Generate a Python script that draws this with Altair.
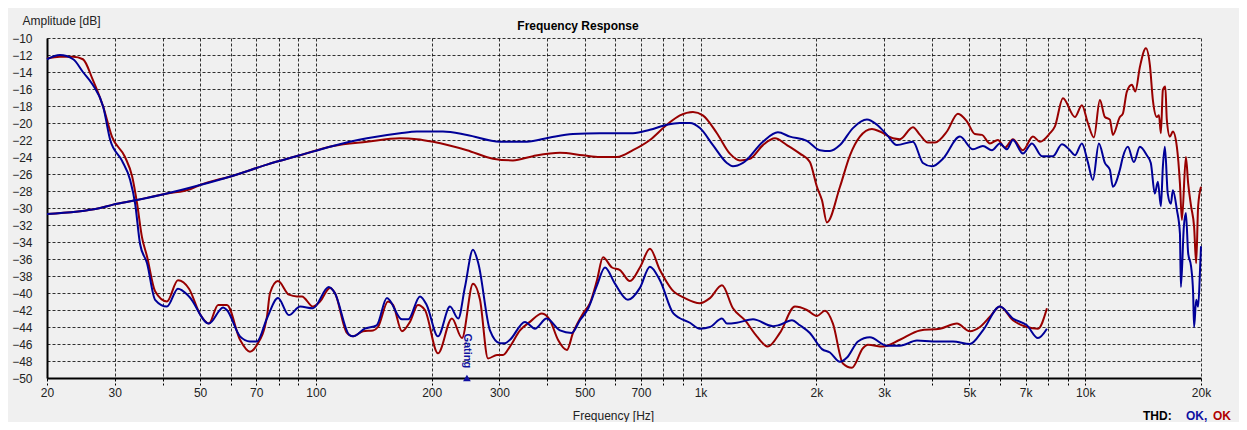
import altair as alt
import pandas as pd

# ---------------- data ----------------
fr_red_hz = [20, 27.5, 29.7, 33.9, 41.0, 47.1, 50.0, 60.9, 74.6, 90.9, 110.8, 135.8, 165.4, 183.1, 201.6,
             247.1, 288.7, 325.4, 366.7, 431, 494.8, 547.7, 606.4, 667.2, 738.6, 817.7, 884, 955.6, 1014, 1103,
             1192, 1266, 1344, 1453, 1561, 1677, 1813, 1924, 2007, 2069, 2131, 2304, 2446, 2596, 2790,
             2926, 3163, 3298, 3566, 3719, 3900, 4068, 4370, 4668, 4925, 5168, 5389, 5653, 5930, 6184,
             6488, 6887, 7313, 7626, 8097, 8343, 8752, 9402, 9804, 10160, 10535, 10918, 11250, 11591, 11801,
             12306, 12529, 12832, 13222, 13500, 13873, 14380, 14729, 14995, 15358, 15550, 15730, 15920, 16150, 16300,
             16600, 16900, 17310, 17630, 17840, 18270, 18520, 18850, 19190, 19430, 19660, 20000]
fr_red_db = [-30.7, -30.0, -29.6, -29.1, -28.3, -27.8, -27.3, -26.2, -24.9, -23.8, -22.7, -22.2, -21.8, -21.9, -22.2,
             -23.2, -24.2, -24.4, -23.9, -23.5, -23.8, -24.0, -24.0, -23.2, -22.0, -20.2, -19.1, -18.7, -19.1, -21.2,
             -23.6, -24.4, -24.2, -22.6, -21.8, -22.6, -23.6, -24.6, -27.5, -29.1, -31.7, -27.5, -23.8, -21.6, -20.7,
             -21.0, -21.8, -21.9, -20.5, -21.4, -22.3, -22.3, -21.0, -18.9, -19.8, -21.3, -21.4, -22.4, -22.0, -22.9,
             -21.9, -23.2, -21.6, -22.2, -21.2, -20.4, -17.1, -19.3, -17.9, -20.0, -21.7, -17.3, -19.3, -19.6, -21.4,
             -19.3, -18.9, -16.3, -15.5, -16.3, -13.4, -11.2, -13.2, -17.3, -19.3, -19.1, -21.2, -16.1, -15.7, -19.6,
             -21.6, -21.0, -22.8, -27.1, -31.4, -24.0, -27.1, -29.8, -32.2, -36.5, -29.8, -27.5]

fr_blue_hz = [20, 27.5, 29.7, 33.9, 41.0, 50.0, 60.9, 74.6, 90.9, 110.8, 135.8, 165.4, 183.1, 214.0, 247.1,
              301.0, 353.8, 406.0, 466.0, 547.7, 667.2, 738.6, 817.7, 884, 938.6, 996.4, 1077, 1171, 1214, 1289,
              1453, 1589, 1708, 1890, 2044, 2170, 2304, 2490, 2707, 2874, 3052, 3239, 3566, 3786, 3996,
              4267, 4724, 5106, 5421, 5721, 6001, 6258, 6488, 6887, 7270, 7718, 8244, 8700, 9125, 9402,
              9804, 10160, 10471, 10853, 11250, 11591, 11801, 12306, 12529, 12910, 13380, 13873, 14460, 14810, 15170,
              15450, 15730, 15920, 16110, 16390, 16700, 16900, 17310, 17630, 17730, 18050, 18270, 18520, 18850, 19080,
              19190, 19430, 19660, 19900, 20000]
fr_blue_db = [-30.7, -30.0, -29.6, -29.1, -28.3, -27.3, -26.2, -24.9, -23.8, -22.7, -21.8, -21.2, -21.0, -21.0, -21.4,
              -22.2, -22.2, -21.7, -21.3, -21.2, -21.2, -20.8, -20.2, -20.0, -20.0, -20.6, -22.6, -24.7, -25.1, -24.7,
              -22.2, -21.1, -21.6, -22.1, -23.2, -23.3, -22.6, -20.6, -19.6, -20.2, -21.4, -22.6, -22.2, -24.7, -25.1,
              -24.2, -21.6, -23.1, -22.7, -23.2, -22.4, -23.1, -22.0, -23.6, -22.4, -23.9, -23.9, -22.5, -23.2, -23.8,
              -22.4, -24.6, -26.7, -22.4, -24.7, -25.5, -27.5, -25.5, -24.0, -22.8, -24.6, -22.8, -23.8, -24.7, -28.3,
              -26.9, -29.8, -25.1, -22.8, -28.3, -29.5, -27.9, -30.2, -33.0, -39.3, -32.2, -30.6, -35.3, -36.9, -40.0,
              -44.0, -40.8, -41.6, -36.9, -34.5]

dist_red_hz = [20, 21.6, 23.4, 24.8, 26.3, 28.0, 29.5, 31.9, 33.3, 34.3, 35.3, 36.4, 38.2, 41.0, 43.8,
               46.8, 50.0, 52.7, 55.7, 58.7, 63.5, 67.4, 70.3, 74.6, 76.0, 79.7, 85.1, 89.3, 92.0, 98.3,
               102.5, 108.8, 112.1, 120.4, 124.9, 132.6, 140.8, 145.0, 154.0, 158.7, 167.4, 175.6, 184.2, 192.1, 207.7,
               225.8, 239.8, 256.1, 267.1, 280.2, 295.7, 306.5, 319.6, 339.3, 360.2, 387.0, 406.0, 426.0, 449.5, 466.0,
               494.8, 515.9, 538.0, 557.7, 588.5, 617.3, 655.3, 695.7, 738.6, 784.2, 842.6, 911, 996, 1058, 1137,
               1214, 1304, 1401, 1497, 1608, 1760, 1890, 2007, 2106, 2209, 2345, 2475, 2643, 2724, 2980,
               3298, 3719, 4192, 4640, 5015, 5325, 5653, 6001, 6488, 7054, 7536, 7953]
dist_red_db = [-12.4, -12.2, -12.2, -12.5, -14.9, -18.1, -21.6, -24.0, -26.3, -29.5, -33.4, -35.7, -39.8, -41.0, -38.5,
               -39.5, -42.5, -43.6, -41.4, -41.4, -45.5, -46.9, -46.1, -42.8, -40.0, -38.6, -40.2, -40.4, -40.4, -41.6,
               -41.0, -39.4, -40.0, -44.7, -45.1, -44.5, -44.4, -44.0, -41.0, -41.4, -44.5, -43.4, -41.4, -42.0, -47.1,
               -43.0, -45.3, -38.9, -40.8, -47.7, -47.3, -47.3, -46.3, -44.4, -43.4, -42.4, -43.2, -45.5, -46.7, -44.7,
               -42.4, -41.2, -38.5, -35.8, -37.0, -37.3, -38.6, -37.0, -34.8, -37.3, -39.6, -40.6, -41.2, -40.6, -39.1,
               -41.8, -43.2, -45.1, -46.3, -44.7, -41.6, -42.0, -42.7, -42.1, -43.6, -48.3, -48.8, -46.5, -46.1, -46.3,
               -45.5, -44.4, -44.2, -43.6, -44.5, -44.0, -42.8, -41.6, -43.2, -44.0, -44.2, -41.8]

dist_blue_hz = [20, 21.6, 23.4, 24.8, 26.3, 28.0, 29.2, 31.3, 32.9, 33.9, 34.9, 36.4, 38.2, 41.0, 43.8,
                46.8, 52.7, 57.4, 58.7, 63.5, 67.4, 70.3, 74.6, 79.7, 85.1, 91.0, 98.3, 108.0, 112.0, 122.0,
                125.0, 134.0, 143.9, 153.0, 167.4, 173.8, 186.5, 194.1, 207.7, 223.2, 234.5, 244.1, 256.1, 264.4, 283.5,
                301.0, 310.2, 319.6, 349.6, 371.1, 398.0, 431.0, 462.3, 485.9, 510.7, 538.0, 564.4, 599.1, 647.5, 695.7,
                738.6, 784.2, 850.0, 938.6, 996.0, 1058, 1137, 1171, 1243, 1369, 1543, 1595, 1728, 1813, 1924,
                2069, 2170, 2304, 2403, 2566, 2756, 3052, 3298, 3653, 4020, 4530, 5015, 5421, 6001, 6488,
                7054, 7536, 7953]
dist_blue_db = [-12.5, -12.0, -12.5, -14.0, -15.5, -18.1, -22.0, -24.4, -26.7, -29.5, -34.2, -36.5, -40.8, -41.6, -39.5,
                -40.4, -43.6, -41.7, -42.0, -45.1, -45.7, -45.7, -43.0, -40.6, -42.6, -41.6, -41.8, -39.3, -40.0, -44.9,
                -45.1, -44.2, -43.8, -40.6, -43.1, -43.1, -40.4, -41.4, -45.1, -41.6, -43.0, -39.3, -34.9, -36.5, -44.4,
                -45.9, -45.9, -45.5, -43.4, -44.2, -43.0, -44.4, -44.7, -43.2, -41.8, -39.1, -37.0, -38.9, -40.8, -39.4,
                -36.9, -38.5, -42.4, -43.5, -44.2, -44.0, -43.0, -43.6, -43.5, -43.1, -43.9, -43.8, -43.2, -43.8, -44.7,
                -46.6, -47.0, -48.1, -47.6, -45.7, -45.2, -46.2, -46.2, -45.6, -45.7, -45.7, -46.0, -44.4, -41.6, -43.0,
                -43.8, -45.3, -44.2]

x_ticks = [20, 30, 40, 50, 60, 70, 80, 90, 100, 200, 300, 400, 500, 600, 700, 800, 900,
           1000, 2000, 3000, 4000, 5000, 6000, 7000, 8000, 9000, 10000, 20000]
x_labels = {20: "20", 30: "30", 50: "50", 70: "70", 100: "100", 200: "200", 300: "300", 500: "500",
            700: "700", 1000: "1k", 2000: "2k", 3000: "3k", 5000: "5k", 7000: "7k", 10000: "10k", 20000: "20k"}
y_ticks = list(range(-50, -9, 2))

gating_hz = [247]
gating_db = [-46.8]
gating_marker_db = [-50]

RED = "#980000"
BLUE = "#000098"
FONT = "Liberation Sans"

# ---------------- build table ----------------
rows = []
for name, hz, db in [("fr_red", fr_red_hz, fr_red_db), ("dist_red", dist_red_hz, dist_red_db),
                     ("fr_blue", fr_blue_hz, fr_blue_db), ("dist_blue", dist_blue_hz, dist_blue_db)]:
    for i, (f, v) in enumerate(zip(hz, db)):
        rows.append({"series": name, "hz": f, "db": v, "i": i})
df = pd.DataFrame(rows)

label_expr = " : ".join(f"datum.value == {k} ? '{v}'" for k, v in x_labels.items()) + " : ''"

x_scale = alt.Scale(type="log", domain=[20, 20000], nice=False)
y_scale = alt.Scale(domain=[-50, -10], nice=False, zero=False)

x_axis = alt.Axis(values=x_ticks, labelExpr=label_expr, title="Frequency [Hz]",
                  titleX=566, titleY=41, titleBaseline="alphabetic", titleAlign="center",
                  titleFontWeight="normal", titleFontSize=12, titleFont=FONT, titleColor="#222",
                  labelFont=FONT, labelFontSize=12, labelColor="#222", labelPadding=2,
                  labelFlush=False, labelOverlap=False,
                  tickSize=7, tickDash=[3, 2], tickColor="black", tickWidth=1,
                  domainColor="black", domainWidth=2,
                  grid=True, gridColor="black", gridDash=[3, 2], gridOpacity=0.8, gridWidth=1)
y_axis = alt.Axis(values=y_ticks, format="d", title="Amplitude [dB]",
                  titleAngle=0, titleAlign="left", titleX=-25, titleY=-14, titleBaseline="alphabetic",
                  titleFontWeight="normal", titleFontSize=12, titleFont=FONT, titleColor="#222",
                  labelFont=FONT, labelFontSize=12, labelColor="#222", labelPadding=15,
                  ticks=False, domainColor="black", domainWidth=2,
                  grid=True, gridColor="black", gridDash=[3, 2], gridOpacity=0.8, gridWidth=1)

X = alt.X("hz:Q", scale=x_scale, axis=x_axis)

base = alt.Chart(df)


def series_layer(name, color):
    return base.transform_filter(alt.datum.series == name).mark_line(
        color=color, strokeWidth=2, interpolate="monotone").encode(
        x=X, y=alt.Y("db:Q", scale=y_scale, axis=y_axis), order="i:Q")


layers = [
    series_layer("fr_red", RED),
    series_layer("dist_red", RED),
    series_layer("fr_blue", BLUE),
    series_layer("dist_blue", BLUE),
]

gdf = pd.DataFrame({"hz": gating_hz, "db": gating_db, "mdb": gating_marker_db, "t": ["Gating"]})
gating_text = alt.Chart(gdf).mark_text(angle=90, font=FONT, fontSize=11, fontWeight="bold",
                                       color="#1010a0", baseline="middle", align="center").encode(
    x=X, y=alt.Y("db:Q", scale=y_scale, axis=y_axis), text="t:N")
gating_mark = alt.Chart(gdf).mark_point(shape="triangle-up", filled=True, size=60, color="#1010a0",
                                        opacity=1).encode(
    x=X, y=alt.Y("mdb:Q", scale=y_scale, axis=y_axis))

txt_df = pd.DataFrame({"title": ["Frequency Response"], "a": ["THD:"], "b": ["OK,"], "c": ["OK"]})
title_mark = alt.Chart(txt_df).mark_text(font=FONT, fontSize=12, fontWeight="bold", color="black",
                                         align="center", baseline="alphabetic").encode(
    x=alt.value(531), y=alt.value(-8), text="title:N")
thd1 = alt.Chart(txt_df).mark_text(font=FONT, fontSize=12, fontWeight="bold", color="black",
                                   align="left", baseline="alphabetic").encode(
    x=alt.value(1096), y=alt.value(382), text="a:N")
thd2 = alt.Chart(txt_df).mark_text(font=FONT, fontSize=12, fontWeight="bold", color="#1010a0",
                                   align="left", baseline="alphabetic").encode(
    x=alt.value(1139), y=alt.value(382), text="b:N")
thd3 = alt.Chart(txt_df).mark_text(font=FONT, fontSize=12, fontWeight="bold", color="#b00000",
                                   align="left", baseline="alphabetic").encode(
    x=alt.value(1166), y=alt.value(382), text="c:N")

chart = alt.layer(*layers, gating_text, gating_mark, title_mark, thd1, thd2, thd3).properties(
    width=1154, height=340,
    autosize=alt.AutoSizeParams(type="none"),
    padding={"left": 39, "top": 30, "right": 38, "bottom": 44},
    background="#f0f0f0",
).configure_view(stroke="transparent")

chart.save("out.html", embed_options={"renderer": "svg", "actions": False})
